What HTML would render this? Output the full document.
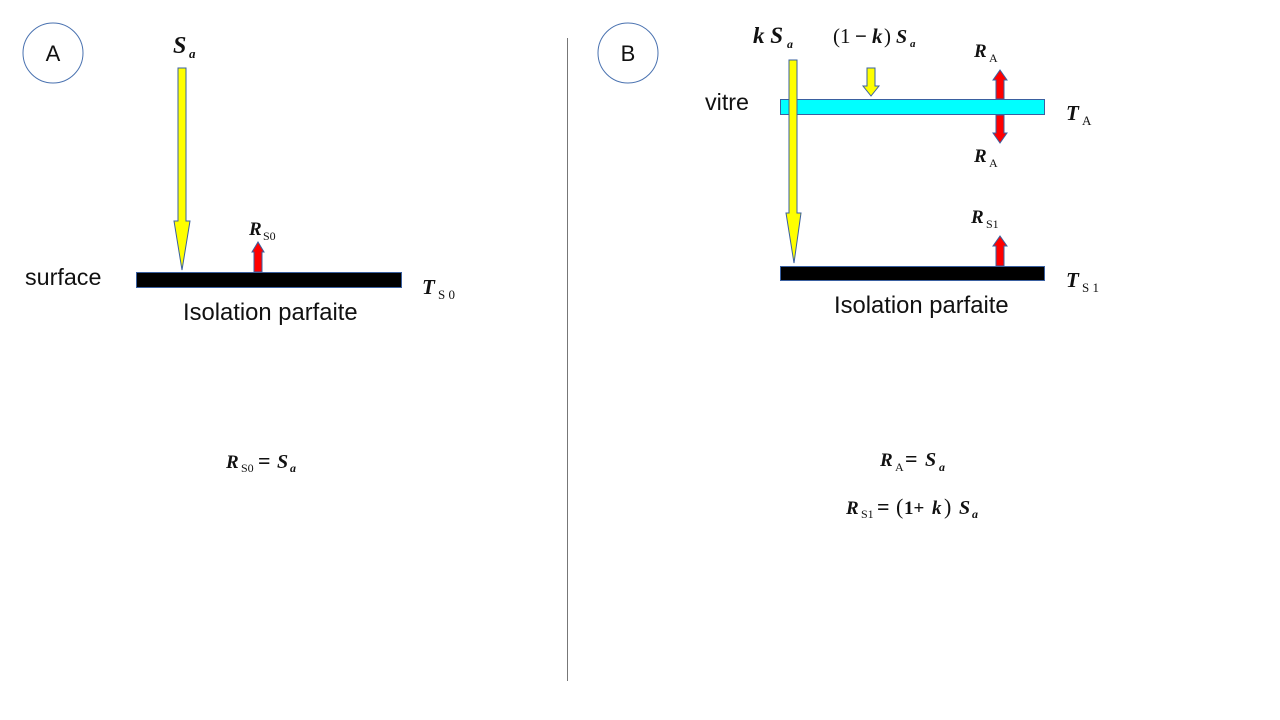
<!DOCTYPE html>
<html><head><meta charset="utf-8"><style>
html,body{margin:0;padding:0;background:#fff;width:1280px;height:720px;overflow:hidden}
svg{display:block}
.s{font-family:"Liberation Sans",sans-serif;fill:#111}
.m{font-family:"Liberation Serif",serif;font-weight:bold;font-style:italic;fill:#111}
.n{font-family:"Liberation Serif",serif;fill:#111}
</style></head><body>
<svg width="1280" height="720" viewBox="0 0 1280 720" xmlns="http://www.w3.org/2000/svg">
<line x1="567.5" y1="38" x2="567.5" y2="681" stroke="#777" stroke-width="1"/>
<circle cx="53" cy="53" r="30" fill="#fff" stroke="#4a72b0" stroke-width="1"/>
<text x="53" y="61" text-anchor="middle" class="s" font-size="22">A</text>
<circle cx="628" cy="53" r="30" fill="#fff" stroke="#4a72b0" stroke-width="1"/>
<text x="628" y="61" text-anchor="middle" class="s" font-size="22">B</text>

<!-- Panel A -->
<polygon points="178,68 186,68 186,221 190,221 182,270 174,221 178,221" fill="#ffff00" stroke="#3a60a0" stroke-width="1"/>
<rect x="136.5" y="272.5" width="265" height="15" fill="#000" stroke="#3a60a0" stroke-width="1"/>
<polygon points="254,272 254,252 252,252 258,242 264,252 262,252 262,272" fill="#ff0000" stroke="#3a60a0" stroke-width="1"/>
<text x="173" y="53" class="m" font-size="24">S</text><text x="189" y="58" class="m" font-size="13" font-weight="normal">a</text>
<text x="249" y="235" class="m" font-size="19">R</text><text x="263" y="240" class="n" font-size="12">S0</text>
<text x="422" y="294" class="m" font-size="21">T</text><text x="438" y="299" class="n" font-size="13">S 0</text>
<text x="25" y="285" class="s" font-size="23.3">surface</text>
<text x="183" y="320" class="s" font-size="23.8">Isolation parfaite</text>
<text x="226" y="468" class="m" font-size="19">R</text><text x="241" y="472" class="n" font-size="12">S0</text>
<text x="258" y="468" class="n" font-size="22" font-weight="bold">=</text>
<text x="277" y="468" class="m" font-size="20">S</text><text x="290" y="472" class="m" font-size="12" font-weight="normal">a</text>

<!-- Panel B -->
<rect x="780.5" y="99.5" width="264" height="15" fill="#00ffff" stroke="#3a60a0" stroke-width="1"/>
<polygon points="789,60 797,60 797,213 801,213 794,263 786,213 789,213" fill="#ffff00" stroke="#3a60a0" stroke-width="1"/>
<rect x="780.5" y="266.5" width="264" height="14" fill="#000" stroke="#3a60a0" stroke-width="1"/>
<polygon points="867,68 875,68 875,86 879,86 871,96 863,86 867,86" fill="#ffff00" stroke="#3a60a0" stroke-width="1"/>
<polygon points="996,99 996,80 993,80 1000,70 1007,80 1004,80 1004,99" fill="#ff0000" stroke="#3a60a0" stroke-width="1"/>
<polygon points="996,115 996,133 993,133 1000,143 1007,133 1004,133 1004,115" fill="#ff0000" stroke="#3a60a0" stroke-width="1"/>
<polygon points="996,266 996,246 993,246 1000,236 1007,246 1004,246 1004,266" fill="#ff0000" stroke="#3a60a0" stroke-width="1"/>
<text x="753" y="43" class="m" font-size="23">k S</text><text x="787" y="48" class="m" font-size="12" font-weight="normal">a</text>
<text x="833" y="43" class="n" font-size="21">(1</text><text x="855" y="43" class="n" font-size="21" font-weight="bold">−</text><text x="872" y="43" class="m" font-size="21">k</text><text x="884" y="43" class="n" font-size="21">)</text><text x="896" y="43" class="m" font-size="20">S</text><text x="910" y="47" class="m" font-size="11" font-weight="normal">a</text>
<text x="974" y="57" class="m" font-size="19">R</text><text x="989" y="62" class="n" font-size="12">A</text>
<text x="974" y="162" class="m" font-size="19">R</text><text x="989" y="167" class="n" font-size="12">A</text>
<text x="971" y="223" class="m" font-size="19">R</text><text x="986" y="228" class="n" font-size="12">S1</text>
<text x="1066" y="120" class="m" font-size="21">T</text><text x="1082" y="125" class="n" font-size="13">A</text>
<text x="1066" y="287" class="m" font-size="21">T</text><text x="1082" y="292" class="n" font-size="13">S 1</text>
<text x="705" y="110" class="s" font-size="23.3">vitre</text>
<text x="834" y="313" class="s" font-size="23.8">Isolation parfaite</text>
<text x="880" y="466" class="m" font-size="19">R</text><text x="895" y="471" class="n" font-size="12">A</text>
<text x="905" y="466" class="n" font-size="22" font-weight="bold">=</text>
<text x="925" y="466" class="m" font-size="20">S</text><text x="939" y="471" class="m" font-size="12" font-weight="normal">a</text>
<text x="846" y="514" class="m" font-size="19">R</text><text x="861" y="518" class="n" font-size="12">S1</text>
<text x="877" y="514" class="n" font-size="22" font-weight="bold">=</text>
<text x="896" y="514" class="n" font-size="22">(</text><text x="904" y="514" class="n" font-size="19" font-weight="bold">1+</text><text x="932" y="514" class="m" font-size="19">k</text><text x="944" y="514" class="n" font-size="22">)</text>
<text x="959" y="514" class="m" font-size="20">S</text><text x="972" y="518" class="m" font-size="12" font-weight="normal">a</text>
</svg>
</body></html>
